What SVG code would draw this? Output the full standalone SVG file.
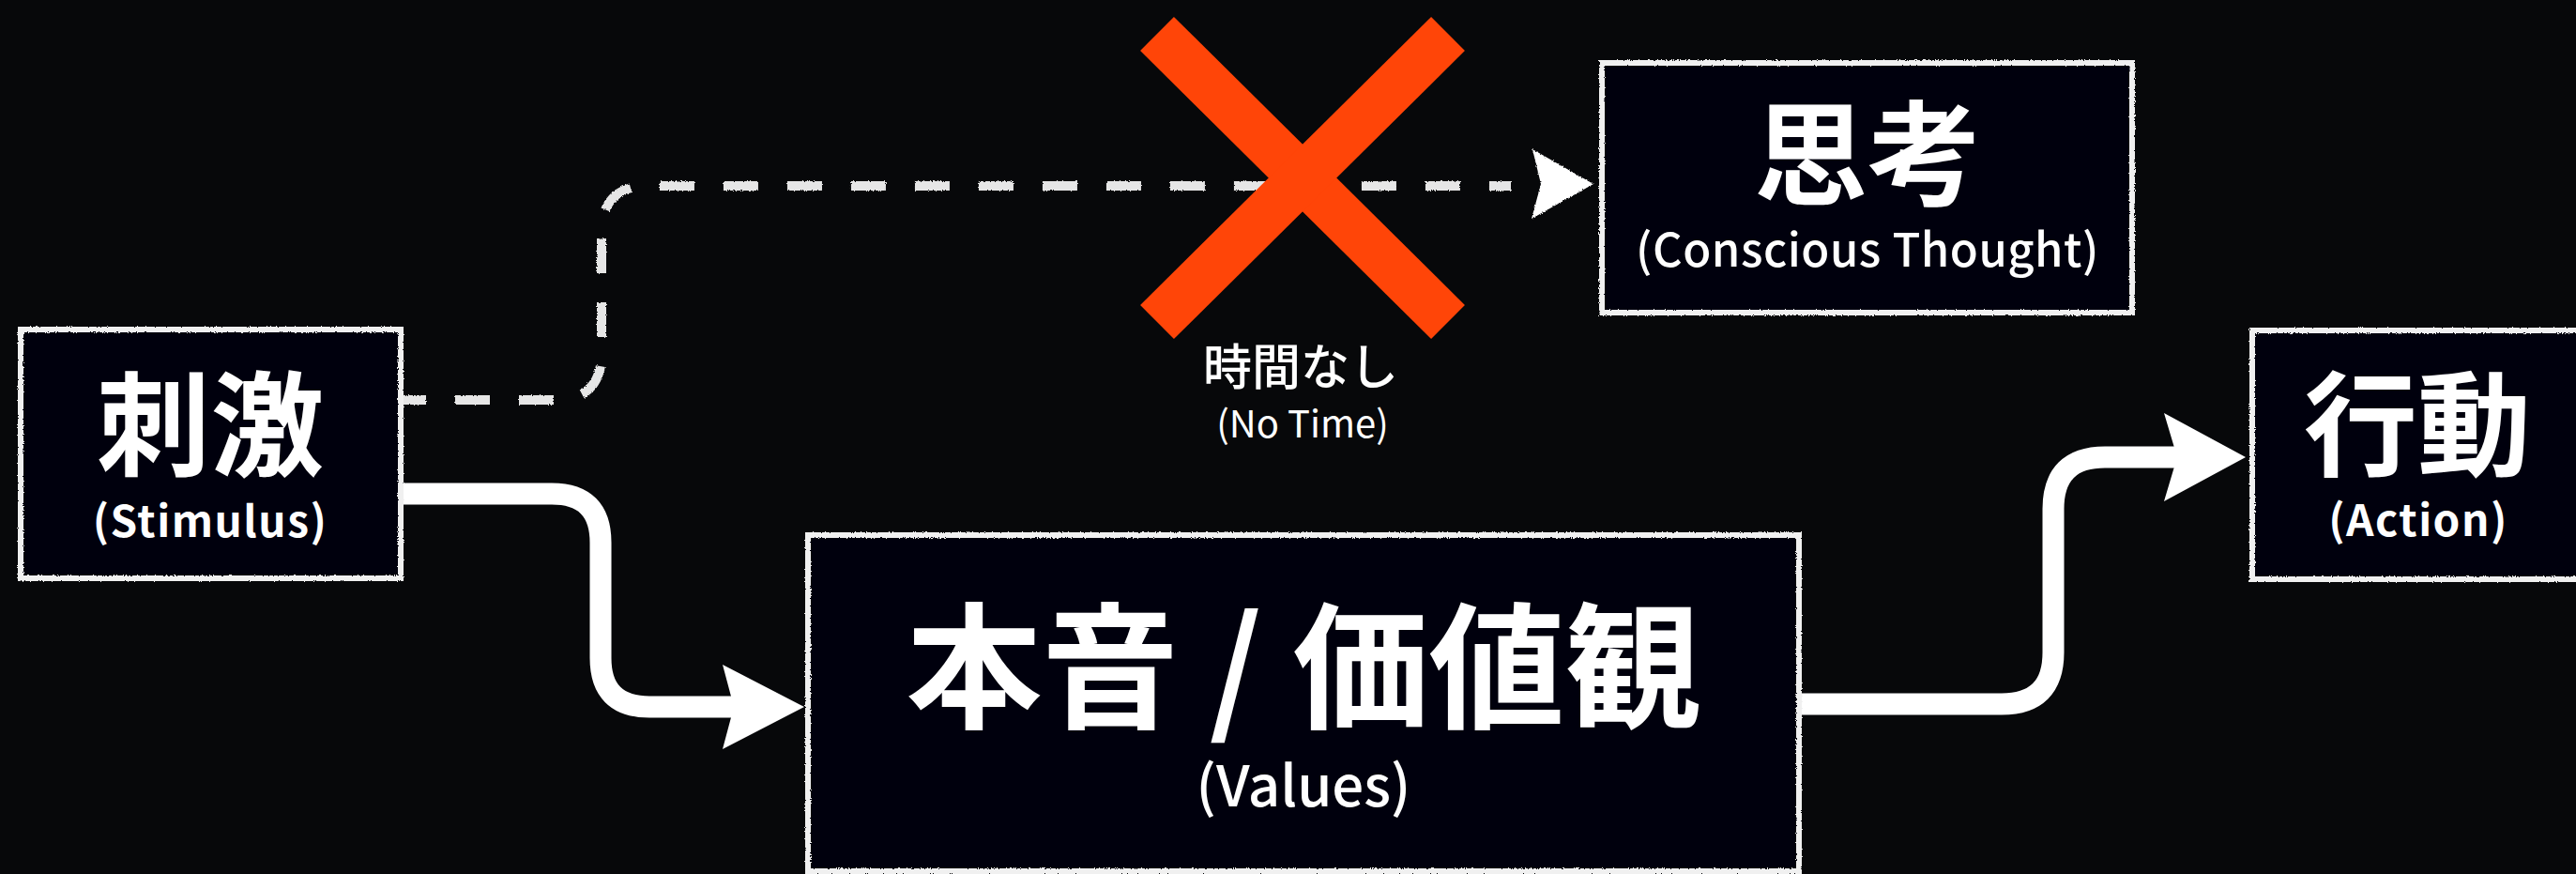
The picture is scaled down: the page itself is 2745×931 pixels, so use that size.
<svg xmlns="http://www.w3.org/2000/svg" width="2745" height="931" viewBox="0 0 2745 931">
<defs>
<filter id="chalk" x="-5%" y="-5%" width="110%" height="110%">
<feTurbulence type="fractalNoise" baseFrequency="0.9" numOctaves="2" seed="3" result="n"/>
<feDisplacementMap in="SourceGraphic" in2="n" scale="3" xChannelSelector="R" yChannelSelector="G"/>
</filter>
<style>
.box{fill:#050607;stroke:#f0f0f0;stroke-width:6;filter:url(#chalk)}
.cjk{font-family:"Noto Sans CJK JP","Noto Sans",sans-serif;fill:#ffffff;text-anchor:middle}
.big{font-weight:700}
.sub{font-weight:700}
.med{font-weight:500}
.flow{fill:none;stroke:#ffffff;stroke-width:23}
.head{fill:#ffffff}
.dash{fill:none;stroke:#e6e6e6;stroke-width:10;stroke-dasharray:37 31;stroke-dashoffset:10;filter:url(#chalk)}
.x{stroke:#ff4508;stroke-width:51}
</style>
</defs>
<rect width="2745" height="931" fill="#07080a"/>

<g id="connectors">
<path class="dash" d="M427 426 H591 Q641 426 641 376 V248 Q641 198 691 198 H1610"/>
<polygon class="head" fill="#e6e6e6" filter="url(#chalk)" points="1633,159 1698,196 1632,233 1642,196"/>
<path class="flow" d="M427 526 H588 Q640 526 640 578 V701 Q640 753 692 753 H785"/>
<polygon class="head" points="770,708 857,753 770,798 782,753"/>
<path class="flow" d="M1917 750 H2133 Q2188 750 2188 695 V542 Q2188 487 2243 487 H2320"/>
<polygon class="head" points="2306,440 2393,487 2306,534 2320,487"/>
</g>

<g id="node-stimulus">
<rect class="box" x="22" y="351" width="405" height="265"/>
<text class="cjk big" x="224" y="497" font-size="121">刺激</text>
<text class="cjk sub" x="224" y="572" font-size="46" letter-spacing="1.5">(Stimulus)</text>
</g>

<g id="node-thought">
<rect class="box" x="1707" y="67" width="565" height="266"/>
<text class="cjk big" x="1990" y="209" font-size="121">思考</text>
<text class="cjk med" x="1990" y="284" font-size="49" letter-spacing="0.5">(Conscious Thought)</text>
</g>

<g id="node-values">
<rect class="box" x="861" y="570" width="1056" height="358"/>
<text class="cjk big" x="1389" y="765" font-size="145">本音 / 価値観</text>
<text class="cjk med" x="1389" y="859" font-size="60">(Values)</text>
</g>

<g id="node-action">
<rect class="box" x="2400" y="352" width="420" height="265"/>
<text class="cjk big" x="2576" y="497" font-size="121">行動</text>
<text class="cjk sub" x="2577" y="571" font-size="46" letter-spacing="1.5">(Action)</text>
</g>

<g id="node-notime">
<line class="x" x1="1233" y1="36" x2="1543" y2="343"/>
<line class="x" x1="1543" y1="36" x2="1233" y2="343"/>
<text class="cjk med" x="1386" y="410" font-size="52">時間なし</text>
<text class="cjk" x="1388" y="466" font-size="40">(No Time)</text>
</g>
</svg>
